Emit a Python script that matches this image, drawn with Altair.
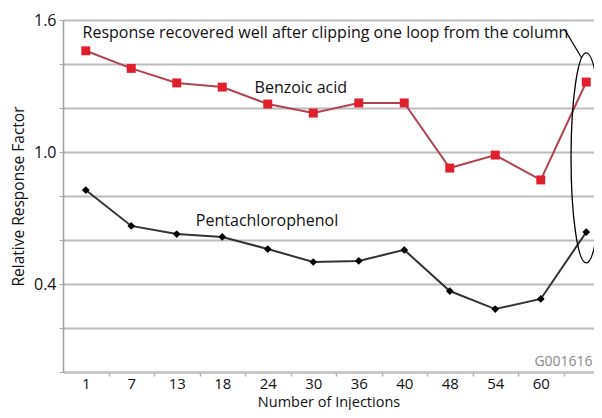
import altair as alt
import pandas as pd

# ---- data ----
injections = ["1", "7", "13", "18", "24", "30", "36", "40", "48", "54", "60", ""]
benzoic = [1.46, 1.38, 1.314, 1.295, 1.218, 1.177, 1.223, 1.223, 0.927, 0.986, 0.873, 1.318]
penta = [0.827, 0.664, 0.627, 0.614, 0.559, 0.50, 0.505, 0.555, 0.368, 0.286, 0.332, 0.636]

y_ticks = [0, 0.2, 0.4, 0.6, 0.8, 1.0, 1.2, 1.4, 1.6]
x_tick_positions = [i + 0.5 for i in range(11)]

note_text = ["Response recovered well after clipping one loop from the column"]
note_x = [-0.07]
note_y = [1.541]

series_labels = ["Benzoic acid", "Pentachlorophenol"]
series_label_x = [3.71, 2.42]
series_label_y = [1.291, 0.686]

code_text = ["G001616"]
code_x = [9.86]
code_y = [0.045]

leader_x = [10.53]
leader_x2 = [10.90]
leader_y = [1.555]
leader_y2 = [1.427]

ellipse_x = [11]
ellipse_y = [0.973]

FONT = "Open Sans"

idx = list(range(len(injections)))
df_b = pd.DataFrame({"idx": idx, "v": benzoic})
df_p = pd.DataFrame({"idx": idx, "v": penta})

label_expr_x = "[" + ",".join('"%s"' % s for s in injections) + "][floor(datum.value)]"

x_scale = alt.Scale(domain=[-0.5, 11.17], nice=False, zero=False)
y_scale = alt.Scale(domain=[0, 1.6], nice=False)

x_axis = alt.Axis(
    values=x_tick_positions,
    labelExpr=label_expr_x,
    labelOffset=-22.75,
    grid=False,
    tickSize=4,
    tickColor="#b0b0b0",
    tickWidth=1.5,
    labelPadding=0,
    labelFontSize=15,
    labelFont=FONT,
    labelColor="#111111",
    title="Number of Injections",
    titleFont=FONT,
    titleFontSize=14.5,
    titleFontWeight="normal",
    titleColor="#111111",
    titlePadding=0,
    titleBaseline="alphabetic",
    titleY=34,
    domainColor="#c4c4c4",
    domainWidth=2.5,
)

y_axis = alt.Axis(
    values=y_ticks,
    labelExpr="(abs(datum.value-0.4)<0.01 || abs(datum.value-1)<0.01 || abs(datum.value-1.6)<0.01) ? format(datum.value, '.1f') : ''",
    grid=True,
    gridColor="#bcbcbc",
    gridWidth=2,
    tickSize=4,
    tickColor="#aaaaaa",
    labelPadding=3,
    labelFontSize=16,
    labelFont=FONT,
    labelColor="#111111",
    title="Relative Response Factor",
    titleFont=FONT,
    titleFontSize=15.5,
    titleFontWeight="normal",
    titleColor="#111111",
    titlePadding=7,
    domainColor="#a0a0a0",
    domainWidth=1.5,
)

base_b = alt.Chart(df_b).encode(
    x=alt.X("idx:Q", scale=x_scale, axis=x_axis),
    y=alt.Y("v:Q", scale=y_scale, axis=y_axis),
)
line_b = base_b.mark_line(color="#b5424f", strokeWidth=2)
pts_b = base_b.mark_point(shape="square", filled=True, color="#e01f2d", size=80, opacity=1)

base_p = alt.Chart(df_p).encode(x=alt.X("idx:Q", scale=x_scale), y=alt.Y("v:Q", scale=y_scale))
line_p = base_p.mark_line(color="#333333", strokeWidth=2)
pts_p = base_p.mark_point(shape="diamond", filled=True, color="#000000", size=60, opacity=1)

note = alt.Chart(pd.DataFrame({"t": note_text, "x": note_x, "y": note_y})).mark_text(
    align="left", baseline="middle", font=FONT, fontSize=16, color="#111111"
).encode(x=alt.X("x:Q", scale=x_scale), y=alt.Y("y:Q", scale=y_scale), text="t:N")

slabels = alt.Chart(pd.DataFrame({"t": series_labels, "x": series_label_x, "y": series_label_y})).mark_text(
    align="left", baseline="middle", font=FONT, fontSize=16, color="#111111"
).encode(x=alt.X("x:Q", scale=x_scale), y=alt.Y("y:Q", scale=y_scale), text="t:N")

code = alt.Chart(pd.DataFrame({"t": code_text, "x": code_x, "y": code_y})).mark_text(
    align="left", baseline="middle", font=FONT, fontSize=14, color="#8a8a8a"
).encode(x=alt.X("x:Q", scale=x_scale), y=alt.Y("y:Q", scale=y_scale), text="t:N")

leader = alt.Chart(pd.DataFrame({"x": leader_x, "x2": leader_x2, "y": leader_y, "y2": leader_y2})).mark_rule(
    color="#000000", strokeWidth=1.2
).encode(x=alt.X("x:Q", scale=x_scale), x2="x2:Q", y=alt.Y("y:Q", scale=y_scale), y2="y2:Q")

a = 0.145
k = 0.5523
ellipse_path = (
    f"M 0,-1 C {a*k:.4f},-1 {a},-{k} {a},0 "
    f"C {a},{k} {a*k:.4f},1 0,1 "
    f"C -{a*k:.4f},1 -{a},{k} -{a},0 "
    f"C -{a},-{k} -{a*k:.4f},-1 0,-1 Z"
)
ellipse = alt.Chart(pd.DataFrame({"x": ellipse_x, "y": ellipse_y})).mark_point(
    shape=ellipse_path, filled=False, color="#000000", strokeWidth=1.3, size=44100, opacity=1
).encode(x=alt.X("x:Q", scale=x_scale), y=alt.Y("y:Q", scale=y_scale))

chart = alt.layer(
    line_b, pts_b, line_p, pts_p, note, slabels, code, leader, ellipse
).properties(
    width=531,
    height=352,
    autosize=alt.AutoSizeParams(type="none"),
    padding={"left": 55, "top": 12, "right": 0, "bottom": 38},
).configure_view(stroke="#dddddd", strokeWidth=1)

chart.save("out.html", embed_options={"renderer": "svg", "actions": False})
